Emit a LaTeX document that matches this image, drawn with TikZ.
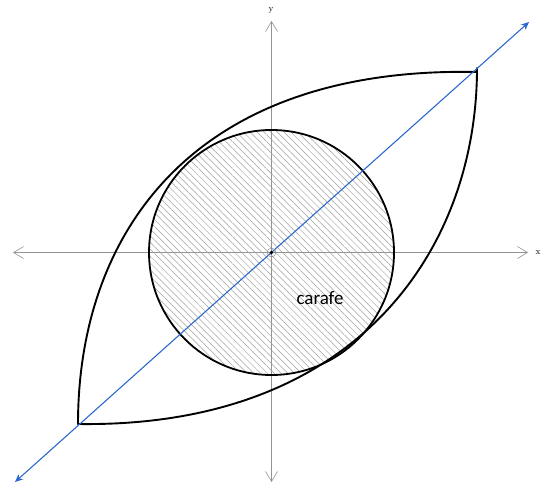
\documentclass[tikz,border=0pt]{standalone}
\usepackage{fontspec}
\newfontfamily\carlito{Carlito}
\usetikzlibrary{arrows.meta,patterns.meta}
\definecolor{lineblue}{RGB}{45,105,205}
\begin{document}
\begin{tikzpicture}[x=1pt,y=-1pt,
  axisline/.style={draw=gray!85, line width=0.6pt,
    {Straight Barb[length=10pt,width=12pt]}-{Straight Barb[length=10pt,width=12pt]}},
  lensline/.style={draw=black, line width=1.9pt, line cap=round},
  diagline/.style={draw=lineblue, line width=1.1pt,
    {Stealth[length=8pt,width=7pt]}-{Stealth[length=8pt,width=7pt]}},
  axislabel/.style={font=\small, inner sep=1pt},
  carafelabel/.style={font=\carlito\fontsize{19}{22}\selectfont, inner sep=0pt}]
\path[use as bounding box] (0,0) rectangle (545,486);
% axes
\coordinate (xl) at (13,252.5);
\coordinate (xr) at (528,252.5);
\coordinate (yt) at (271.5,21);
\coordinate (yb) at (271.5,482);
\draw[axisline] (xl) -- (xr);
\draw[axisline] (yb) -- (yt);
\node[axislabel] (xlab) at (538,253) {x};
\node[axislabel] (ylab) at (271,10) {y};
% hatched circle
\coordinate (o) at (271.5,252.5);
\draw[line width=1.8pt, pattern={Lines[angle=-45,distance=4.8pt,line width=0.5pt]}, pattern color=gray!75]
  (o) circle (122.5pt);
% lens
\coordinate (ll) at (78,424);
\coordinate (ur) at (477,72);
\coordinate (urtop) at (477,68);
\draw[lensline] (ll) .. controls (78,234) and (192,66) .. (ur);
\draw[lensline] (ll) .. controls (358,428) and (477,248) .. (urtop);
% blue line
\coordinate (bl) at (15,482);
\coordinate (tr) at (529,22);
\draw[diagline] (bl) -- (tr);
% origin marker
\draw[gray, line width=0.4pt] (o) circle (4.5pt);
\node[circle, fill=black, inner sep=0pt, minimum size=3.6pt] (odot) at (o) {};
% label
\node[carafelabel] (carafe) at (320,298) {carafe};
\end{tikzpicture}
\end{document}
